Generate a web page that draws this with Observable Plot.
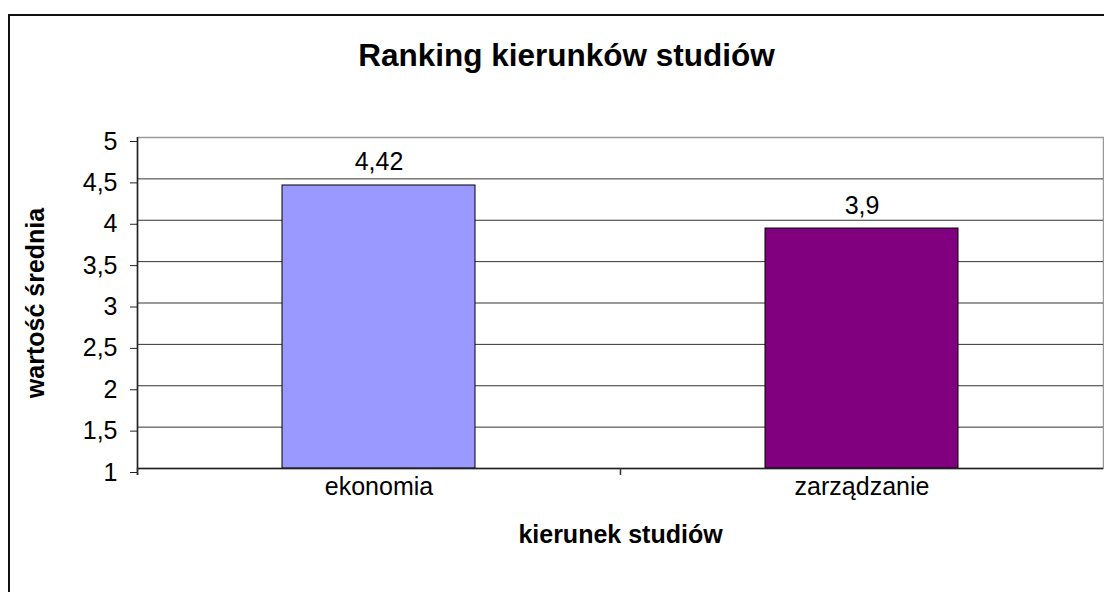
<!DOCTYPE html>
<html>
<head>
<meta charset="utf-8">
<script src="https://cdn.jsdelivr.net/npm/d3@7"></script>
<script src="https://cdn.jsdelivr.net/npm/@observablehq/plot@0.6"></script>
<style>
  html, body { margin: 0; padding: 0; background: #fff; }
  #wrap { position: relative; width: 1104px; height: 592px; overflow: hidden; background: #fff; }
  #border { position: absolute; left: 8px; top: 14px; width: 1200px; height: 700px;
            border-left: 2px solid #111; border-top: 2px solid #111; box-sizing: border-box; }
  #chart { position: absolute; left: 0; top: 0; }
</style>
</head>
<body>
<div id="wrap"><div id="border"></div><div id="chart"></div></div>
<script>
const categories = ["ekonomia", "zarządzanie"];
const values = [4.42, 3.9];
const barColors = ["#9999FF", "#800080"];
const yTicks = [1, 1.5, 2, 2.5, 3, 3.5, 4, 4.5, 5];
const titleText = "Ranking kierunków studiów";
const xLabelText = "kierunek studiów";
const yLabelText = "wartość średnia";

const data = categories.map((c, i) => ({cat: c, value: values[i], color: barColors[i]}));
const fmt = d => String(d).replace(".", ",");
const font = "'Liberation Sans', Arial, sans-serif";
const halfStep = (1104 - 137 - 1) / categories.length / 2;

const chart = Plot.plot({
  width: 1104,
  height: 592,
  marginLeft: 137,
  marginRight: 1,
  marginTop: 137,
  marginBottom: 124,
  style: {fontFamily: font, fontSize: "25px", color: "#000", background: "transparent", overflow: "visible"},
  x: {domain: categories, paddingInner: 0.6, paddingOuter: 0.3, label: null},
  y: {domain: [1, 5], label: null},
  color: {type: "identity"},
  marks: [
    Plot.frame({stroke: "#999", strokeWidth: 1.5}),
    Plot.ruleY(yTicks.filter(t => t > 1 && t < 5), {stroke: "#333", strokeWidth: 1}),
    Plot.barY(data, {x: "cat", y1: 1, y2: "value", fill: "color", stroke: "#000", strokeWidth: 1}),
    Plot.ruleY([1], {stroke: "#222", strokeWidth: 1.5}),
    Plot.ruleX([categories[0]], {dx: -halfStep, insetBottom: -7, stroke: "#222", strokeWidth: 1.5}),
    Plot.ruleX(categories, {dx: -halfStep, y1: 1, y2: 1, insetBottom: -7, stroke: "#333", strokeWidth: 1.5}),
    Plot.axisY({ticks: yTicks, tickFormat: fmt, tickSize: 7, tickPadding: 13, dy: 4, fontSize: 25, stroke: "#222", label: null}),
    Plot.axisX({tickSize: 0, tickPadding: 9, fontSize: 25, label: null}),
    Plot.text(data, {x: "cat", y: "value", text: d => fmt(d.value), dy: -23, lineAnchor: "middle", fontSize: 25}),
    Plot.text([titleText], {frameAnchor: "top", dx: -54, dy: -82, lineAnchor: "middle", textAnchor: "middle", fontSize: 31.5, fontWeight: "bold"}),
    Plot.text([xLabelText], {frameAnchor: "bottom", dy: 66, lineAnchor: "middle", textAnchor: "middle", fontSize: 25, fontWeight: "bold"}),
    Plot.text([yLabelText], {frameAnchor: "left", rotate: -90, dx: -102, lineAnchor: "middle", textAnchor: "middle", fontSize: 25, fontWeight: "bold"})
  ]
});
document.getElementById("chart").appendChild(chart);
</script>
</body>
</html>
